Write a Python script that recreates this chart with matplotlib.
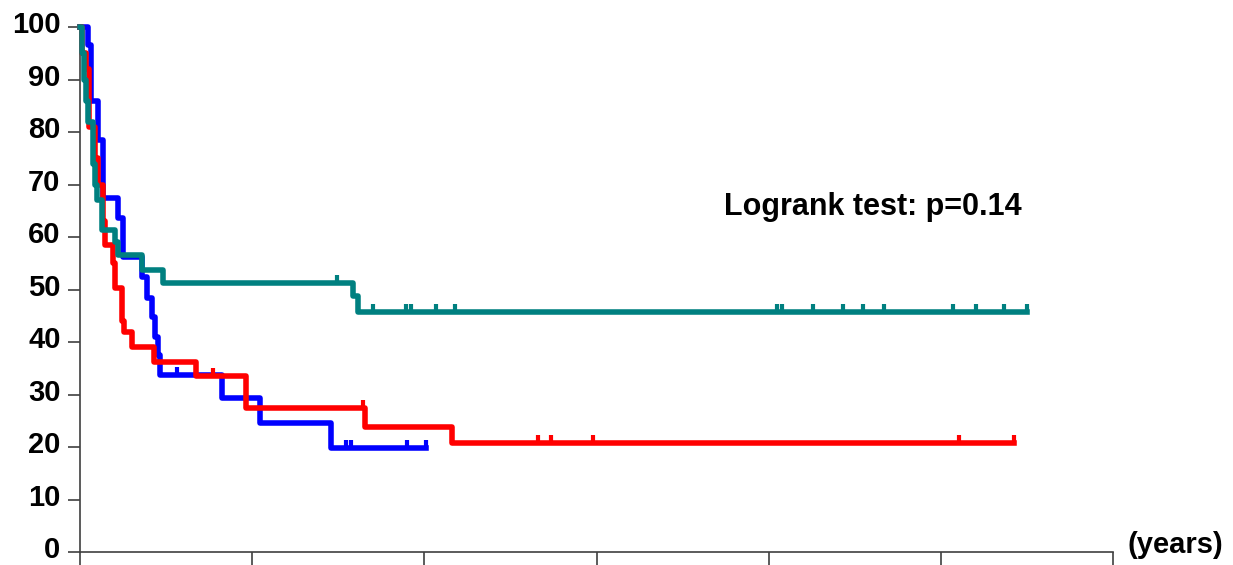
import numpy as np
import matplotlib
matplotlib.use("Agg")
import matplotlib.pyplot as plt
import matplotlib.transforms as mtransforms

plt.rcParams['font.family'] = ['Liberation Sans', 'DejaVu Sans']

# step curves: event times (years) and survival (%) after each event
blue_t = [0, 0.09, 0.13, 0.21, 0.27, 0.44, 0.50, 0.72, 0.78, 0.84, 0.87, 0.91, 0.93, 1.65, 2.09, 2.92, 4.02]
blue_s = [100, 96.5, 86, 78.5, 67.4, 63.6, 56.2, 52.4, 48.4, 44.8, 41, 37.5, 33.7, 29.3, 24.5, 19.8, 19.8]
blue_cens = [1.13, 3.09, 3.15, 3.80, 4.02]

red_t = [0, 0.02, 0.07, 0.10, 0.17, 0.21, 0.27, 0.29, 0.38, 0.41, 0.49, 0.51, 0.60, 0.86, 1.35, 1.93, 3.31, 4.32, 10.85]
red_s = [100, 95, 92, 81, 75, 70, 63, 58.5, 55, 50.3, 44, 41.9, 39, 36.2, 33.5, 27.4, 23.8, 20.7, 20.7]
red_cens = [1.54, 3.29, 5.32, 5.47, 5.96, 10.21, 10.85]

teal_t = [0, 0.02, 0.05, 0.07, 0.09, 0.15, 0.17, 0.20, 0.26, 0.41, 0.44, 0.72, 0.96, 3.17, 3.23, 11.0]
teal_s = [100, 95, 90, 86, 82, 74, 70, 67, 61.3, 59, 56.5, 53.7, 51.2, 48.8, 45.7, 45.7]
teal_cens = [2.98, 3.40, 3.79, 3.84, 4.13, 4.36, 8.10, 8.16, 8.51, 8.86, 9.09, 9.34, 10.14, 10.41, 10.73, 11.0]

yticks = [0, 10, 20, 30, 40, 50, 60, 70, 80, 90, 100]
xticks = [0, 2, 4, 6, 8, 10, 12]


def surv_at(t_list, s_list, x):
    idx = np.searchsorted(t_list, x, side='right') - 1
    return s_list[idx]


fig = plt.figure(figsize=(12.33, 5.65), dpi=100)
ax = fig.add_axes([0.0649, 0.023, 0.8378, 0.929])

curves = [
    (blue_t, blue_s, blue_cens, '#0000FF'),
    (red_t, red_s, red_cens, '#FF0000'),
    (teal_t, teal_s, teal_cens, '#008080'),
]
for t, s, cens, col in curves:
    ax.step(t, s, where='post', color=col, lw=4, clip_on=False, zorder=3)
    cy = [surv_at(t, s, c) for c in cens]
    ax.plot(cens, cy, ls='none', marker=2, ms=6, mew=3, color=col, clip_on=False, zorder=3)

ax.set_xlim(0, 12)
ax.set_ylim(0, 100)
ax.set_yticks(yticks)
ax.set_yticklabels([str(v) for v in yticks], fontsize=21, fontweight='bold')
ax.set_xticks(xticks)
ax.set_xticklabels([])
ax.tick_params(axis='both', direction='out', length=9, width=1.2, color='#404040')
ax.tick_params(axis='y', pad=5)
# nudge y labels up a little so the 0 stays inside the figure
shift = mtransforms.ScaledTranslation(0, 5 / 100, fig.dpi_scale_trans)
for lab in ax.get_yticklabels():
    lab.set_transform(lab.get_transform() + shift)
for side in ['top', 'right']:
    ax.spines[side].set_visible(False)
for side in ['left', 'bottom']:
    ax.spines[side].set_color('#404040')
    ax.spines[side].set_linewidth(1.2)

fig.text(0.9144, 0.036, '(years)', fontsize=21, fontweight='bold', ha='left', va='center')
ax.text(0.7675, 0.657, 'Logrank test: p=0.14', transform=ax.transAxes,
        fontsize=22, fontweight='bold', ha='center', va='center')

fig.savefig('out.png', dpi=100)
